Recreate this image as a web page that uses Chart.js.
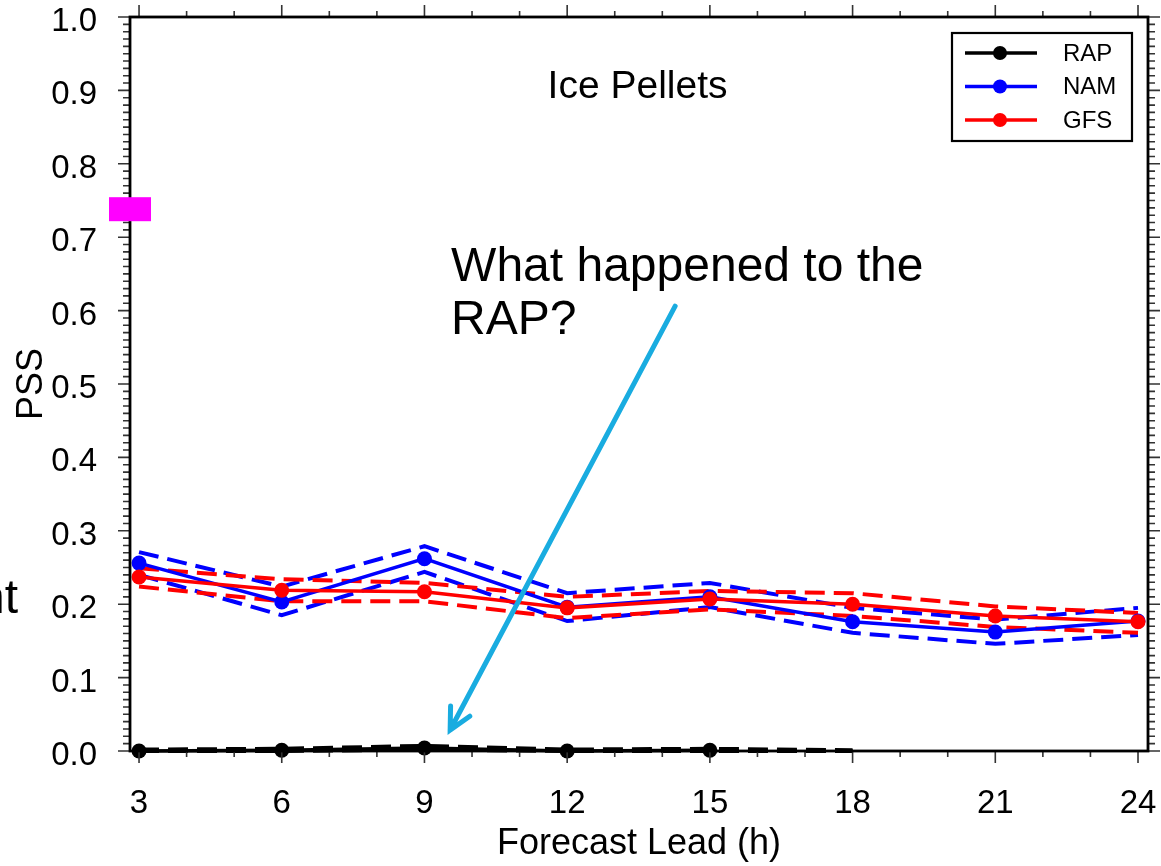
<!DOCTYPE html>
<html lang="en">
<head>
<meta charset="UTF-8">
<title>Ice Pellets PSS</title>
<style>
    body {
        margin: 0;
        background: #ffffff;
    }
    #wrap {
        width: 1161px;
        height: 866px;
    }
</style>
</head>
<body>
<div id="wrap"><canvas id="pssChart" width="1161" height="866"></canvas></div>

<script src="https://cdn.jsdelivr.net/npm/chart.js"></script>
<script>
// forecast lead (h)
const leads = [3, 6, 9, 12, 15, 18, 21, 24];
const rapLeads = [3, 6, 9, 12, 15];
const rapCiLeads = [3, 6, 9, 12, 15, 18];

// PSS values and their confidence bounds (dashed)
const rapPss = [0.000, 0.001, 0.004, 0.000, 0.001];
const rapUpper = [0.002, 0.003, 0.007, 0.002, 0.003, 0.001];
const rapLower = [0.000, 0.000, 0.002, 0.000, 0.000, 0.000];

const namPss = [0.256, 0.203, 0.262, 0.196, 0.210, 0.176, 0.162, 0.177];
const namUpper = [0.271, 0.224, 0.279, 0.215, 0.229, 0.195, 0.179, 0.195];
const namLower = [0.240, 0.185, 0.244, 0.177, 0.196, 0.161, 0.146, 0.158];

const gfsPss = [0.237, 0.219, 0.217, 0.195, 0.207, 0.200, 0.184, 0.176];
const gfsUpper = [0.249, 0.234, 0.229, 0.210, 0.218, 0.215, 0.197, 0.188];
const gfsLower = [0.224, 0.204, 0.204, 0.181, 0.193, 0.184, 0.169, 0.161];

const xTicks = [3, 6, 9, 12, 15, 18, 21, 24];
const yTicks = [0, 0.1, 0.2, 0.3, 0.4, 0.5, 0.6, 0.7, 0.8, 0.9, 1.0];
const legendNames = ['RAP', 'NAM', 'GFS'];
const legendColors = ['#000000', '#0000ff', '#ff0000'];

const FONT = "'Liberation Sans', Arial, sans-serif";
Chart.defaults.font.family = FONT;
Chart.defaults.color = '#000000';

function pts(xs, ys) {
    return xs.map((x, i) => ({ x: x, y: ys[i] }));
}

function mainLine(data, color) {
    return {
        data: data,
        borderColor: color,
        backgroundColor: color,
        borderWidth: 3.5,
        pointRadius: 7.5,
        pointBorderWidth: 0,
        pointBackgroundColor: color,
        tension: 0,
        clip: false
    };
}

function ciLine(data, color) {
    return {
        data: data,
        borderColor: color,
        borderWidth: 4,
        borderDash: [20, 9],
        pointRadius: 0,
        tension: 0,
        clip: false
    };
}

// first dataset is drawn on top
const datasets = [
    mainLine(pts(leads, gfsPss), '#ff0000'),
    mainLine(pts(leads, namPss), '#0000ff'),
    mainLine(pts(rapLeads, rapPss), '#000000'),
    ciLine(pts(leads, gfsUpper), '#ff0000'),
    ciLine(pts(leads, gfsLower), '#ff0000'),
    ciLine(pts(leads, namUpper), '#0000ff'),
    ciLine(pts(leads, namLower), '#0000ff'),
    ciLine(pts(rapCiLeads, rapUpper), '#000000'),
    ciLine(pts(rapCiLeads, rapLower), '#000000')
];

// keep the plot box where the original figure had it
function noPad(s) {
    s.paddingLeft = 0;
    s.paddingRight = 0;
    s.paddingTop = 0;
    s.paddingBottom = 0;
}

// frame, minor ticks, legend and slide annotations
const decorPlugin = {
    id: 'decor',
    afterDraw(chart) {
        const ctx = chart.ctx;
        const { left, right, top, bottom } = chart.chartArea;
        const xs = chart.scales.x;
        const ys = chart.scales.y;

        ctx.save();

        // ticks on all four sides, pointing outward
        ctx.strokeStyle = '#333333';
        ctx.lineWidth = 1.6;
        ctx.beginPath();
        for (let h = 3; h <= 24; h++) {
            const px = xs.getPixelForValue(h);
            const len = h % 3 === 0 ? 12 : 6;
            ctx.moveTo(px, bottom); ctx.lineTo(px, bottom + len);
            ctx.moveTo(px, top); ctx.lineTo(px, top - len);
        }
        for (let i = 0; i <= 100; i++) {
            const py = ys.getPixelForValue(i / 100);
            const len = i % 10 === 0 ? 12 : 7;
            ctx.moveTo(left, py); ctx.lineTo(left - len, py);
            ctx.moveTo(right, py); ctx.lineTo(right + len, py);
        }
        ctx.stroke();

        // plot frame
        ctx.strokeStyle = '#000000';
        ctx.lineWidth = 2.8;
        ctx.strokeRect(left, top, right - left, bottom - top);

        // magenta marker on the y axis
        ctx.fillStyle = '#ff00ff';
        const my1 = ys.getPixelForValue(0.7545);
        const my2 = ys.getPixelForValue(0.7218);
        ctx.fillRect(left - 21, my1, 42, my2 - my1);

        // panel title
        ctx.fillStyle = '#000000';
        ctx.textBaseline = 'alphabetic';
        ctx.textAlign = 'center';
        ctx.font = '39px ' + FONT;
        ctx.fillText('Ice Pellets', xs.getPixelForValue(13.48), ys.getPixelForValue(0.889));

        // question text
        ctx.textAlign = 'left';
        ctx.font = '48px ' + FONT;
        const qx = xs.getPixelForValue(9.56);
        ctx.fillText('What happened to the', qx, ys.getPixelForValue(0.640));
        ctx.fillText('RAP?', qx, ys.getPixelForValue(0.568));

        // leftover slide text at the edge
        ctx.fillText('nt', -22, 613);

        // arrow
        const ax1 = xs.getPixelForValue(14.27), ay1 = ys.getPixelForValue(0.606);
        const ax2 = xs.getPixelForValue(9.54), ay2 = ys.getPixelForValue(0.0286);
        const ang = Math.atan2(ay1 - ay2, ax1 - ax2);
        const wing = 24, spread = 0.47;
        ctx.strokeStyle = '#19ace0';
        ctx.lineWidth = 5;
        ctx.lineCap = 'round';
        ctx.beginPath();
        ctx.moveTo(ax1, ay1);
        ctx.lineTo(ax2, ay2);
        ctx.moveTo(ax2 + wing * Math.cos(ang - spread), ay2 + wing * Math.sin(ang - spread));
        ctx.lineTo(ax2, ay2);
        ctx.lineTo(ax2 + wing * Math.cos(ang + spread), ay2 + wing * Math.sin(ang + spread));
        ctx.stroke();
        ctx.lineCap = 'butt';

        // legend box
        const bx = right - 196, by = top + 16, bw = 180, bh = 108;
        ctx.fillStyle = '#ffffff';
        ctx.fillRect(bx, by, bw, bh);
        ctx.strokeStyle = '#000000';
        ctx.lineWidth = 2.2;
        ctx.strokeRect(bx, by, bw, bh);
        ctx.font = '24px ' + FONT;
        ctx.textBaseline = 'middle';
        legendNames.forEach((name, i) => {
            const ry = by + 20 + i * 33.5;
            ctx.strokeStyle = legendColors[i];
            ctx.lineWidth = 3.5;
            ctx.beginPath();
            ctx.moveTo(bx + 13, ry);
            ctx.lineTo(bx + 85, ry);
            ctx.stroke();
            ctx.fillStyle = legendColors[i];
            ctx.beginPath();
            ctx.arc(bx + 48, ry, 7, 0, Math.PI * 2);
            ctx.fill();
            ctx.fillStyle = '#000000';
            ctx.fillText(name, bx + 111, ry + 1);
        });

        ctx.restore();
    }
};

const ctx = document.getElementById('pssChart').getContext('2d');
const pssChart = new Chart(ctx, {
    type: 'line',
    data: { datasets: datasets },
    options: {
        responsive: false,
        animation: false,
        events: [],
        layout: { autoPadding: false, padding: { left: 0, top: 17, right: 13, bottom: 0 } },
        plugins: {
            legend: { display: false },
            tooltip: { enabled: false }
        },
        scales: {
            x: {
                type: 'linear',
                min: 2.81,
                max: 24.21,
                afterBuildTicks: (s) => { s.ticks = xTicks.map(v => ({ value: v })); },
                afterFit: (s) => { s.height = 115; noPad(s); },
                grid: { display: false },
                border: { display: false },
                ticks: {
                    font: { size: 33 },
                    padding: 25,
                    maxRotation: 0,
                    callback: (v) => String(v)
                },
                title: {
                    display: true,
                    text: 'Forecast Lead (h)',
                    font: { size: 36 },
                    padding: { top: 0, bottom: 0 }
                }
            },
            y: {
                min: 0,
                max: 1,
                afterBuildTicks: (s) => { s.ticks = yTicks.map(v => ({ value: v })); },
                afterFit: (s) => { s.width = 130; noPad(s); },
                grid: { display: false },
                border: { display: false },
                ticks: {
                    font: { size: 33 },
                    padding: 25,
                    labelOffset: 5,
                    callback: (v) => v.toFixed(1)
                },
                title: {
                    display: true,
                    text: 'PSS',
                    font: { size: 36 },
                    padding: { top: 10, bottom: 0 }
                }
            }
        }
    },
    plugins: [decorPlugin]
});
</script>
</body>
</html>
